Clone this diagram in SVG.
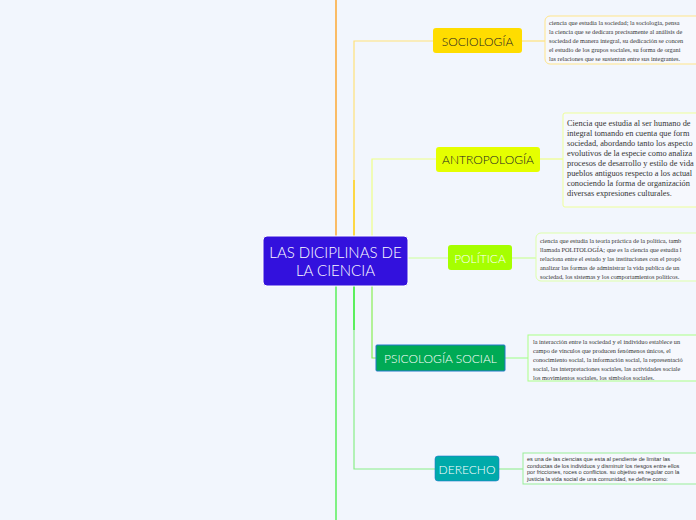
<svg xmlns="http://www.w3.org/2000/svg" width="696" height="520" viewBox="0 0 696 520">
<style>
.n{font-family:Lato,"Open Sans",sans-serif;font-weight:300;text-anchor:middle;dominant-baseline:central}
.d{font-family:"Liberation Serif",serif;font-size:6.3px;fill:#333}
.b{font-family:"Liberation Serif",serif;font-size:8.3px;fill:#333}
.s{font-family:"Liberation Sans",sans-serif;font-size:5.6px;fill:#333}
.c{fill:none;stroke-width:1.2}
</style>
<rect width="696" height="520" fill="#f2f6fd"/>
<g id="connectors">
<path class="c" d="M336 0V236" stroke="#ff9500" stroke-width="2"/>
<path class="c" d="M336 286V520" stroke="#33ee33" stroke-width="1.6"/>
<path class="c" d="M354 236V41H433" stroke="#ffe27a"/>
<path class="c" d="M354 236V180" stroke="#ffcc00" stroke-width="1.6"/>
<path class="c" d="M372 236V159H436" stroke="#eeff88"/>
<path class="c" d="M408 258H448" stroke="#ccff99"/>
<path class="c" d="M372 286V358H376" stroke="#88ee55"/>
<path class="c" d="M354 286V469H435" stroke="#88ee88"/>
<path class="c" d="M354 286V330" stroke="#22ee22" stroke-width="1.6"/>
<path class="c" d="M522 41H545" stroke="#ffe27a"/>
<path class="c" d="M540 159H563" stroke="#eeff88"/>
<path class="c" d="M512 258H536" stroke="#ccff99"/>
<path class="c" d="M505 358H528" stroke="#aaff99"/>
<path class="c" d="M499 469H523" stroke="#99ee99"/>
</g>
<g id="center"><rect x="263" y="236" width="145" height="50" rx="4" fill="#3311dd" stroke="#fff"/>
<text class="n" x="335.5" y="252" font-size="15" fill="#fff">LAS DICIPLINAS DE</text>
<text class="n" x="335.5" y="270" font-size="15" fill="#fff">LA CIENCIA</text></g>
<g id="sociologia"><rect x="433" y="28" width="89" height="25" rx="3" fill="#ffdd00"/><text class="n" x="477.5" y="41" font-size="12" fill="#222">SOCIOLOGÍA</text></g>
<g id="antropologia"><rect x="436" y="147" width="104" height="25" rx="3" fill="#e5ff00"/><text class="n" x="488" y="159.5" font-size="12" fill="#222">ANTROPOLOGÍA</text></g>
<g id="politica"><rect x="448" y="245" width="64" height="25" rx="3" fill="#a6ff00"/><text class="n" x="480" y="258" font-size="12" fill="#fff">POLÍTICA</text></g>
<g id="psicologia"><rect x="376" y="345" width="129" height="26" rx="1" fill="#00aa55" stroke="#2277cc"/><text class="n" x="440.5" y="358" font-size="12" fill="#fff">PSICOLOGÍA SOCIAL</text></g>
<g id="derecho"><rect x="435" y="456" width="64" height="25" rx="3" fill="#00aaaa" stroke="#2277cc" stroke-width="0.6"/><text class="n" x="467" y="469" font-size="12" fill="#fff">DERECHO</text></g>
<g id="d1"><rect x="545" y="16" width="160" height="48" rx="5" fill="#f6f8fd" stroke="#ffe58a"/>
<text class="d" x="549" y="25">ciencia que estudia la sociedad; la sociología, pensa</text>
<text class="d" x="549" y="34">la ciencia que se dedicara precisamente al análisis de</text>
<text class="d" x="549" y="43">sociedad de manera integral, su dedicación se concen</text>
<text class="d" x="549" y="52">el estudio de los grupos sociales, su forma de organi</text>
<text class="d" x="549" y="61">las relaciones que se sustentan entre sus integrantes.</text></g>
<g id="d2"><rect x="563" y="113" width="140" height="94" rx="2" fill="#f6f8fd" stroke="#eeff99"/>
<text class="b" x="567" y="126">Ciencia que estudia al ser humano de</text>
<text class="b" x="567" y="136">integral  tomando en cuenta que form</text>
<text class="b" x="567" y="146">sociedad, abordando tanto los aspecto</text>
<text class="b" x="567" y="156">evolutivos de la especie como analiza</text>
<text class="b" x="567" y="166">procesos de desarrollo y estilo de vida</text>
<text class="b" x="567" y="176">pueblos antiguos respecto a los actual</text>
<text class="b" x="567" y="186">conociendo la forma de organización</text>
<text class="b" x="567" y="196">diversas expresiones culturales.</text></g>
<g id="d3"><rect x="536" y="233" width="168" height="48" rx="5" fill="#f6f8fd" stroke="#ddffaa"/>
<text class="d" x="540" y="243">ciencia que estudia la teoría práctica de la política, tamb</text>
<text class="d" x="540" y="252">llamada POLITOLOGÍA; que es la ciencia que estudia l</text>
<text class="d" x="540" y="261">relaciona entre el estado y las instituciones con el propó</text>
<text class="d" x="540" y="270">analizar las formas de administrar la vida publica de un</text>
<text class="d" x="540" y="279">sociedad, los sistemas  y los comportamientos políticos.</text></g>
<g id="d4"><rect x="528" y="335" width="176" height="46" fill="#f6f8fd" stroke="#aaff88"/>
<text class="d" x="533" y="344">la interacción entre la sociedad y el individuo establece un</text>
<text class="d" x="533" y="353">campo de vínculos que producen fenómenos únicos, el</text>
<text class="d" x="533" y="362">conocimiento social, la información social, la representació</text>
<text class="d" x="533" y="371">social, las interpretaciones sociales, las actividades sociale</text>
<text class="d" x="533" y="380">los movimientos sociales, los símbolos sociales.</text></g>
<g id="d5"><rect x="523" y="453" width="181" height="31" fill="#f6f8fd" stroke="#99ee99"/>
<text class="s" x="527" y="461">es una de las ciencias que esta al pendiente de limitar las</text>
<text class="s" x="527" y="467.5">conductas de los individuos y disminuir los riesgos entre ellos</text>
<text class="s" x="527" y="474">por fricciones, roces o conflictos. su objetivo es regular con la</text>
<text class="s" x="527" y="480.5">justicia la vida social de una comunidad, se define como:</text></g>
</svg>
